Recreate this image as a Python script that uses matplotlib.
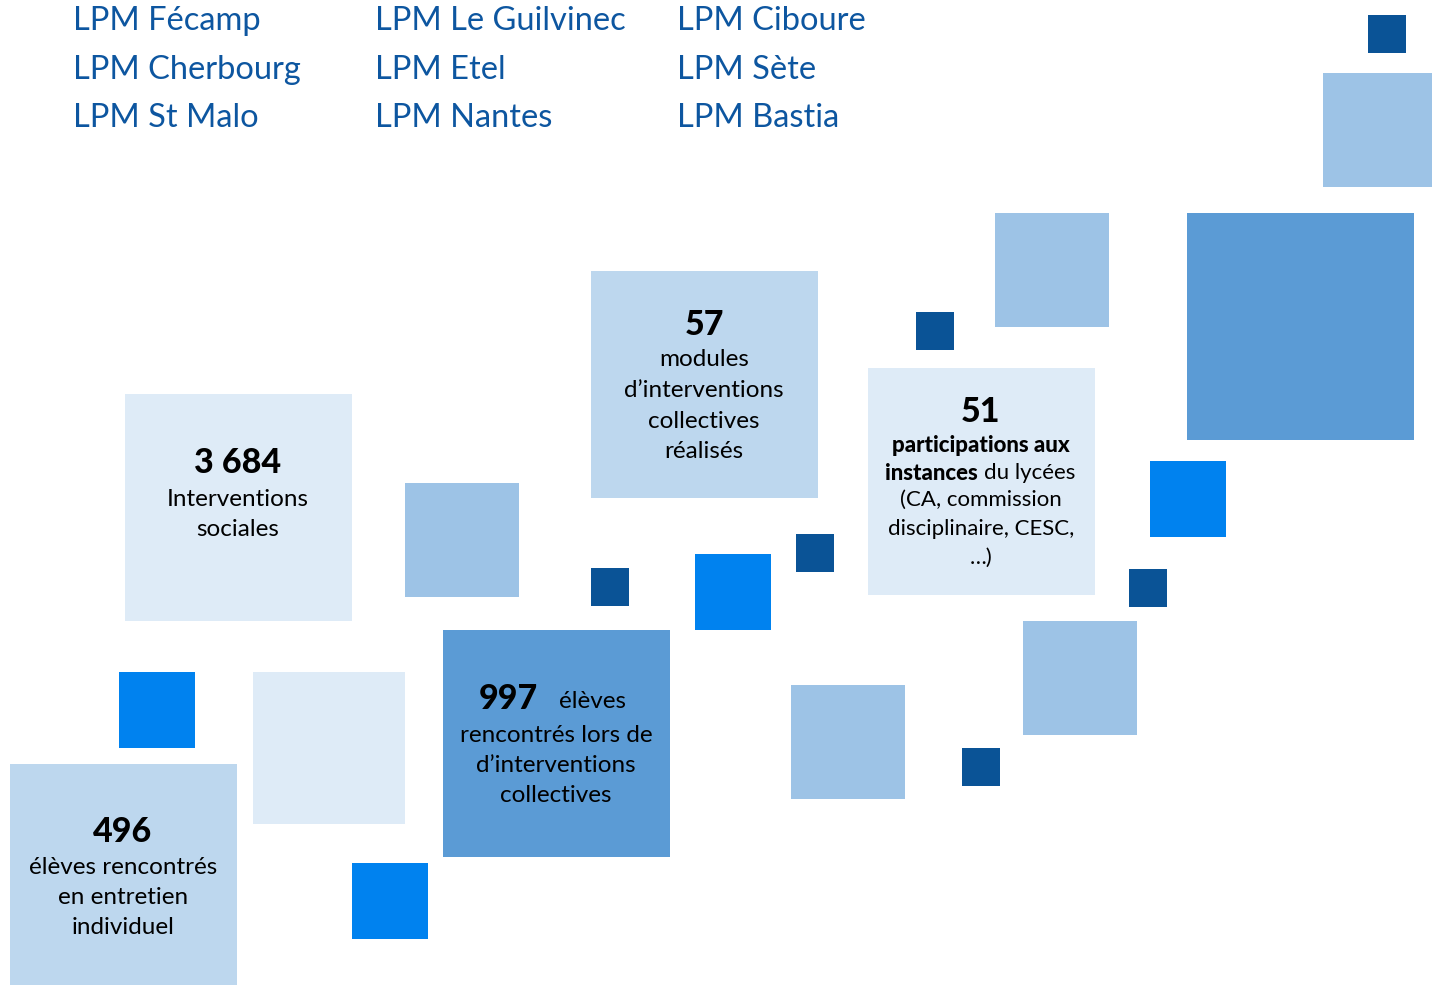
import matplotlib
matplotlib.use("Agg")
import matplotlib.pyplot as plt
from matplotlib.patches import Rectangle

W, H = 1432, 985
DPI = 100

# ---- data ----
schools = [["LPM Fécamp", "LPM Cherbourg", "LPM St Malo"],
           ["LPM Le Guilvinec", "LPM Etel", "LPM Nantes"],
           ["LPM Ciboure", "LPM Sète", "LPM Bastia"]]

stat_values = ["496", "3 684", "997", "57", "51"]
stat_labels = [
    "élèves rencontrés\nen entretien\nindividuel",
    "Interventions\nsociales",
    "rencontrés lors de\nd’interventions\ncollectives",
    "modules\nd’interventions\ncollectives\nréalisés",
    "(CA, commission\ndisciplinaire, CESC,\n…)",
]

# ---- styles ----
C = {"dark": "#0A5396", "bright": "#0082EF", "light": "#9DC3E6",
     "mid": "#5B9BD5", "pale": "#BDD7EE", "vpale": "#DEEBF7"}
TXT_BLUE = "#0D56A0"
FONT = "Lato"

# decorative squares: (x_left, y_top, size, colour)
squares = [
    (1368, 15, 38, "dark"), (1323, 73, 114, "light"), (1187, 213, 227, "mid"),
    (995, 213, 114, "light"), (916, 312, 38, "dark"),
    (591, 271, 227, "pale"), (868, 368, 227, "vpale"),
    (1150, 461, 76, "bright"), (796, 534, 38, "dark"), (695, 554, 76, "bright"),
    (591, 568, 38, "dark"), (1129, 569, 38, "dark"),
    (405, 483, 114, "light"), (125, 394, 227, "vpale"),
    (443, 630, 227, "mid"), (119, 672, 76, "bright"), (253, 672, 152, "vpale"),
    (10, 764, 227, "pale"), (352, 863, 76, "bright"),
    (791, 685, 114, "light"), (962, 748, 38, "dark"), (1023, 621, 114, "light"),
]

fig = plt.figure(figsize=(W / DPI, H / DPI), dpi=DPI)
ax = fig.add_axes([0, 0, 1, 1])
ax.set_xlim(0, W)
ax.set_ylim(H, 0)
ax.axis("off")

for x, y, s, c in squares:
    ax.add_patch(Rectangle((x, y), s, s, facecolor=C[c], edgecolor="none"))

# school names
col_x = [73, 375, 677]
row_y = [21, 70, 118]
for ci, col in enumerate(schools):
    for ri, name in enumerate(col):
        ax.text(col_x[ci], row_y[ri], name, fontsize=23.5, family=FONT,
                color=TXT_BLUE, ha="left", va="center")

NS = 24.5   # number size
LS = 17.5   # label size

def stat(cx, y_num, value, label, y_lab, step):
    ax.text(cx, y_num, value, fontsize=NS, fontweight="black", family=FONT,
            ha="center", va="center", color="black")
    for i, line in enumerate(label.split("\n")):
        ax.text(cx, y_lab + i * step, line, fontsize=LS, family=FONT,
                ha="center", va="center", color="black")

stat(123, 832, stat_values[0], stat_labels[0], 868, 30)
stat(238, 463, stat_values[1], stat_labels[1], 499, 30.5)
stat(704, 325, stat_values[3], stat_labels[3], 360, 30.5)

# 997 box: number and first word on one line
ax.text(538, 699, stat_values[2], fontsize=NS, fontweight="black", family=FONT,
        ha="right", va="center", color="black")
ax.text(559, 702, "élèves", fontsize=LS, family=FONT, ha="left", va="center",
        color="black")
for i, line in enumerate(stat_labels[2].split("\n")):
    ax.text(556, 735 + i * 30.5, line, fontsize=LS, family=FONT,
            ha="center", va="center", color="black")

# 51 box
S51 = 16
ax.text(981, 412, stat_values[4], fontsize=NS, fontweight="black", family=FONT,
        ha="center", va="center", color="black")
ax.text(981, 446, "participations aux", fontsize=S51, fontweight="black",
        family=FONT, ha="center", va="center", color="black")
ax.text(978, 473, "instances", fontsize=S51, fontweight="black", family=FONT,
        ha="right", va="center", color="black")
ax.text(984, 473, "du lycées", fontsize=S51, family=FONT, ha="left",
        va="center", color="black")
for i, line in enumerate(stat_labels[4].split("\n")):
    ax.text(981, 500 + i * 29, line, fontsize=S51, family=FONT,
            ha="center", va="center", color="black")

fig.savefig("out.png", dpi=DPI, facecolor="white")
